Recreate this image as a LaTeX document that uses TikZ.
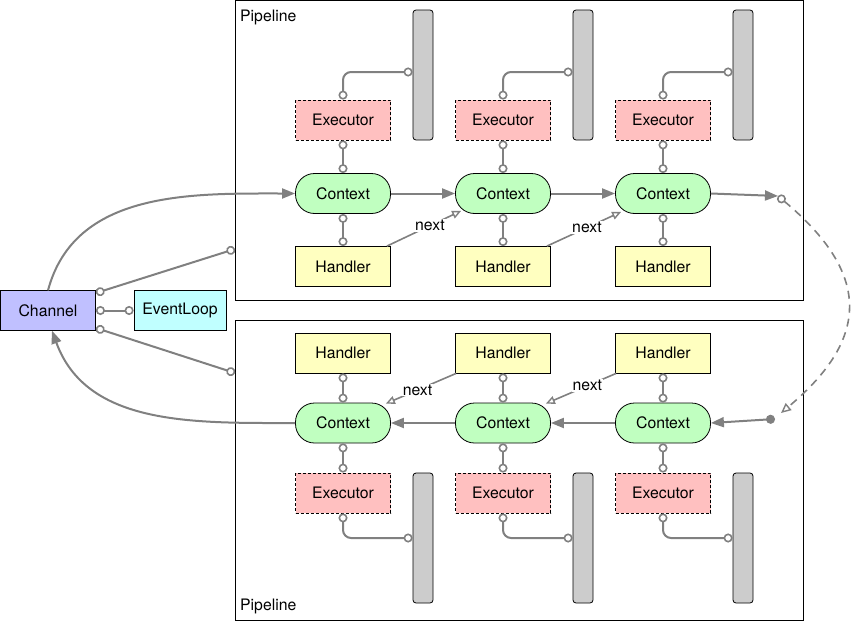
\documentclass[tikz,border=0pt]{standalone}
\usepackage{fontspec}
\setmainfont{TeX Gyre Heros}
\usetikzlibrary{arrows.meta}

\definecolor{linegray}{HTML}{808080}
\definecolor{ctxgreen}{HTML}{C0FFC0}
\definecolor{exred}{HTML}{FFC0C0}
\definecolor{hdyellow}{HTML}{FFFFC0}
\definecolor{bargray}{HTML}{CCCCCC}
\definecolor{chblue}{HTML}{C0C0FF}
\definecolor{elcyan}{HTML}{C0FFFF}

\begin{document}
\begin{tikzpicture}[x=1pt,y=1pt,font=\fontsize{15.8}{18}\selectfont]
\tikzstyle{unit}=[draw,line width=0.8pt,minimum width=95pt,minimum height=40pt,inner sep=0pt];
\tikzstyle{ctx}=[unit,fill=ctxgreen,rounded corners=19pt];
\tikzstyle{exec}=[unit,fill=exred,dash pattern=on 3pt off 2pt];
\tikzstyle{hdl}=[unit,fill=hdyellow];
\tikzstyle{bar}=[draw,line width=0.8pt,fill=bargray,rounded corners=3pt,minimum width=20pt,minimum height=130pt];
\tikzstyle{pipe}=[draw,line width=0.8pt,minimum width=568pt,minimum height=299.5pt];
\tikzstyle{txt}=[inner sep=1pt];
\tikzstyle{link}=[draw=linegray,line width=2pt,{Circle[fill=white,length=9pt,line width=1.6pt]}-{Circle[fill=white,length=9pt,line width=1.6pt]}];
\tikzstyle{flow}=[draw=linegray,line width=2pt,-{Triangle[length=13pt,width=10pt]}];
\tikzstyle{nextlink}=[draw=linegray,line width=1.6pt,-{Triangle[open,fill=white,length=9pt,width=8pt,line width=1.4pt]}];
\useasboundingbox (0,0) rectangle (851,-621);

% the two pipelines
\node[pipe] (pipeA) at (519.5,-150.25) {};
\node[pipe] (pipeB) at (519.5,-470.25) {};
\node[txt,anchor=west] (lblA) at (239,-17) {Pipeline};
\node[txt,anchor=west] (lblB) at (239,-606) {Pipeline};

% channel
\node[unit,fill=chblue,minimum height=39.5pt] (ch) at (48,-310.5) {Channel};
\node[unit,fill=elcyan,minimum width=92pt,minimum height=39.5pt] (el) at (180,-310.5) {EventLoop};

% upper row
\node[exec] (ex1) at (343,-120) {Executor};
\node[exec] (ex2) at (503,-120) {Executor};
\node[exec] (ex3) at (663,-120) {Executor};
\node[ctx] (c1) at (343,-193.5) {Context};
\node[ctx] (c2) at (503,-193.5) {Context};
\node[ctx] (c3) at (663,-193.5) {Context};
\node[hdl] (h1) at (343,-266.5) {Handler};
\node[hdl] (h2) at (503,-266.5) {Handler};
\node[hdl] (h3) at (663,-266.5) {Handler};
\node[bar] (b1) at (423,-75) {};
\node[bar] (b2) at (583,-75) {};
\node[bar] (b3) at (743,-75) {};

% lower row
\node[hdl] (hb1) at (343,-353) {Handler};
\node[hdl] (hb2) at (503,-353) {Handler};
\node[hdl] (hb3) at (663,-353) {Handler};
\node[ctx] (cb1) at (343,-423) {Context};
\node[ctx] (cb2) at (503,-423) {Context};
\node[ctx] (cb3) at (663,-423) {Context};
\node[exec] (eb1) at (343,-493) {Executor};
\node[exec] (eb2) at (503,-493) {Executor};
\node[exec] (eb3) at (663,-493) {Executor};
\node[bar] (bb1) at (423,-538) {};
\node[bar] (bb2) at (583,-538) {};
\node[bar] (bb3) at (743,-538) {};

\coordinate (pA) at (235,-249);
\coordinate (pB) at (235,-373);
\coordinate (jA) at (778,-196);
\coordinate (jC) at (781,-413);
\coordinate (jB) at (775,-419);

% circle links
\draw[link] (ch) -- (el);
\draw[link] ([yshift=17.5pt]ch.east) -- (pA);
\draw[link] ([yshift=-17.5pt]ch.east) -- (pB);
\draw[link] (ex1) -- (c1);
\draw[link] (ex2) -- (c2);
\draw[link] (ex3) -- (c3);
\draw[link] (c1) -- (h1);
\draw[link] (c2) -- (h2);
\draw[link] (c3) -- (h3);
\draw[link] (hb1) -- (cb1);
\draw[link] (hb2) -- (cb2);
\draw[link] (hb3) -- (cb3);
\draw[link] (cb1) -- (eb1);
\draw[link] (cb2) -- (eb2);
\draw[link] (cb3) -- (eb3);
\draw[link,rounded corners=8pt] (ex1.north) |- ([yshift=3pt]b1.west);
\draw[link,rounded corners=8pt] (ex2.north) |- ([yshift=3pt]b2.west);
\draw[link,rounded corners=8pt] (ex3.north) |- ([yshift=3pt]b3.west);
\draw[link,rounded corners=8pt] (eb1.south) |- (bb1.west);
\draw[link,rounded corners=8pt] (eb2.south) |- (bb2.west);
\draw[link,rounded corners=8pt] (eb3.south) |- (bb3.west);

% flow of events
\draw[flow] (ch.north) to[out=75,in=180] (c1.west);
\draw[flow] (c1) -- (c2);
\draw[flow] (c2) -- (c3);
\draw[flow] (c3.east) -- (jA);
\draw[draw=linegray,line width=1.6pt,dash pattern=on 8pt off 6pt,{Circle[fill=white,length=9pt,line width=1.6pt]}-{Triangle[open,fill=white,length=10pt,width=9pt,line width=1.4pt]}] (jA) to[out=-40,in=40,looseness=1.4] (jC);
\draw[flow,{Circle[length=9pt]}-{Triangle[length=13pt,width=10pt]}] (jB) -- (cb3.east);
\draw[flow] (cb3) -- (cb2);
\draw[flow] (cb2) -- (cb1);
\draw[flow] (cb1.west) to[out=180,in=-70] ([xshift=4pt]ch.south);

% next
\draw[nextlink] ([xshift=-4pt]h1.north east) -- node[txt,pos=0.58,fill=white] {next} ([xshift=6pt,yshift=3pt]c2.south west);
\draw[nextlink] ([xshift=-4pt]h2.north east) -- node[txt,pos=0.54,fill=white] {next} ([xshift=6pt,yshift=2pt]c3.south west);
\draw[nextlink] ([xshift=1pt]hb2.south west) -- node[txt,pos=0.55,fill=white] {next} ([xshift=-5pt,yshift=-1pt]cb1.north east);
\draw[nextlink] ([xshift=1pt]hb3.south west) -- node[txt,pos=0.41,fill=white] {next} ([xshift=-5pt,yshift=-1pt]cb2.north east);
\end{tikzpicture}
\end{document}
